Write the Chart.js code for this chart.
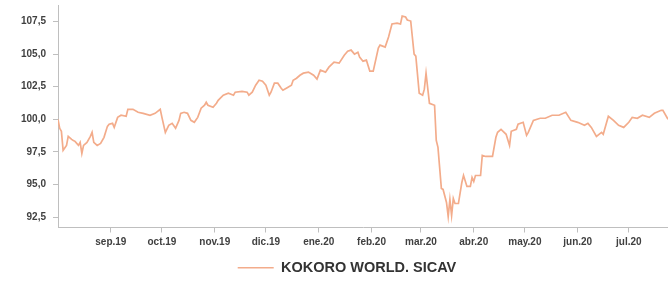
<!DOCTYPE html>
<html>
<head>
<meta charset="utf-8">
<script src="https://cdn.jsdelivr.net/npm/chart.js@4.4.1/dist/chart.umd.min.js"></script>
<style>
html, body { margin: 0; padding: 0; background: #fff; }
</style>
</head>
<body>
<canvas id="chart" width="668" height="282"></canvas>
<script>
// dias contados desde el 1 de agosto de 2019
const days = [0, 1, 2, 3, 5, 6, 8, 9, 10, 12, 13, 14, 15, 17, 19, 20, 21, 23, 25, 27,
    29, 30, 32, 33, 35, 37, 40, 41, 44, 47, 50, 54, 57, 60, 61, 63, 65, 67, 69, 71,
    72, 74, 76, 78, 80, 82, 84, 86, 87, 88, 91, 93, 94, 97, 100, 103, 104, 108, 111, 112,
    114, 116, 118, 120, 122, 124, 125, 127, 129, 131, 132, 135, 137, 138, 140, 142, 144, 147, 150, 152,
    154, 157, 159, 162, 165, 168, 170, 172, 174, 176, 177, 179, 181, 183, 185, 188, 189, 192, 194, 196,
    199, 201, 202, 204, 205, 207, 209, 210, 212, 214, 215, 216, 218, 221, 222, 223, 225, 226, 228, 229,
    230, 231, 232, 233, 235, 237, 238, 240, 242, 243, 244, 245, 248, 249, 251, 255, 257, 258, 260, 263,
    265, 266, 269, 270, 273, 275, 276, 279, 283, 286, 290, 294, 298, 301, 305, 309, 311, 313, 316, 319,
    320, 323, 326, 329, 332, 335, 337, 340, 343, 347, 350, 354, 355, 358];

const values = [100.00, 99.31, 99.08, 97.62, 98.00, 98.69, 98.46, 98.38, 98.31, 98.00, 98.23, 97.38, 98.00, 98.23, 98.69, 99.00, 98.23, 98.00, 98.15, 98.62,
    99.46, 99.62, 99.69, 99.38, 100.15, 100.31, 100.23, 100.77, 100.77, 100.54, 100.46, 100.31, 100.46, 100.77, 100.15, 99.00, 99.54, 99.69, 99.31, 99.92,
    100.46, 100.54, 100.46, 99.92, 99.77, 100.15, 100.85, 101.08, 101.31, 101.08, 100.92, 101.23, 101.46, 101.85, 102.00, 101.85, 102.08, 102.15, 102.08, 101.85,
    102.08, 102.62, 103.00, 102.92, 102.62, 101.85, 102.08, 102.77, 102.77, 102.38, 102.23, 102.46, 102.62, 103.00, 103.15, 103.38, 103.54, 103.62, 103.38, 103.08,
    103.77, 103.62, 104.00, 104.38, 104.31, 104.92, 105.23, 105.31, 105.00, 105.15, 104.77, 104.46, 104.54, 103.69, 103.69, 105.46, 105.69, 105.54, 106.31, 107.31,
    107.38, 107.31, 107.92, 107.85, 107.62, 107.54, 105.00, 104.85, 102.00, 101.85, 102.31, 103.54, 101.23, 101.08, 98.38, 97.85, 94.69, 94.62, 93.62, 92.54,
    93.85, 92.62, 93.92, 93.54, 93.54, 95.15, 95.69, 94.85, 94.85, 95.54, 95.23, 95.69, 95.69, 97.23, 97.15, 97.15, 98.62, 99.00, 99.23, 98.85,
    98.00, 99.08, 99.23, 99.62, 99.77, 98.77, 99.00, 99.92, 100.08, 100.08, 100.31, 100.31, 100.54, 99.92, 99.77, 99.54, 99.69, 99.38, 98.69, 99.00,
    98.85, 100.23, 99.92, 99.54, 99.38, 99.77, 100.15, 100.08, 100.31, 100.15, 100.46, 100.69, 100.69, 100.00];

const monthStarts = [31, 61, 92, 122, 153, 184, 213, 244, 274, 305, 335];
const monthLabels = ['sep.19', 'oct.19', 'nov.19', 'dic.19', 'ene.20', 'feb.20', 'mar.20', 'abr.20', 'may.20', 'jun.20', 'jul.20'];
const yTicks = [92.5, 95, 97.5, 100, 102.5, 105, 107.5];
const seriesName = 'KOKORO WORLD. SICAV';

const lineColor = '#F3AC8B';
const axisColor = '#BFBFBF';
const labelColor = '#404040';

const points = days.map((d, i) => ({ x: d, y: values[i] }));

// mueve la leyenda un poco a la derecha, como en el original
const legendShift = {
    id: 'legendShift',
    afterLayout(chart) {
        chart.legend.left += 13;
        chart.legend.right += 13;
    }
};

const ctx = document.getElementById('chart').getContext('2d');
new Chart(ctx, {
    type: 'line',
    data: {
        datasets: [{
            label: seriesName,
            data: points,
            borderColor: lineColor,
            backgroundColor: lineColor,
            borderWidth: 1.7,
            pointRadius: 0,
            tension: 0
        }]
    },
    options: {
        responsive: false,
        animation: false,
        layout: { padding: { top: 5, right: 0, bottom: -3, left: 0 } },
        plugins: {
            tooltip: { enabled: false },
            legend: {
                position: 'bottom',
                labels: {
                    usePointStyle: true,
                    pointStyle: 'line',
                    pointStyleWidth: 36,
                    padding: 6,
                    color: '#333',
                    font: { family: "'Liberation Sans', Arial, sans-serif", size: 14.5, weight: 'bold' }
                }
            }
        },
        scales: {
            x: {
                type: 'linear',
                min: 0,
                max: 358,
                afterBuildTicks: scale => {
                    scale.ticks = monthStarts.map(v => ({ value: v }));
                },
                afterFit: scale => { scale.height = 27; },
                grid: {
                    drawOnChartArea: false,
                    drawTicks: true,
                    tickLength: 5,
                    color: axisColor
                },
                border: { color: axisColor },
                ticks: {
                    autoSkip: false,
                    maxRotation: 0,
                    padding: 4,
                    color: labelColor,
                    font: { family: "'Liberation Sans', Arial, sans-serif", size: 10, weight: 'bold' },
                    callback: value => monthLabels[monthStarts.indexOf(value)]
                }
            },
            y: {
                min: 91.7,
                max: 108.77,
                afterBuildTicks: scale => {
                    scale.ticks = yTicks.map(v => ({ value: v }));
                },
                afterFit: scale => {
                    scale.width = 58;
                    scale.paddingTop = 0;
                    scale.paddingBottom = 0;
                },
                grid: {
                    drawOnChartArea: false,
                    drawTicks: true,
                    tickLength: 5,
                    color: axisColor
                },
                border: { color: axisColor },
                ticks: {
                    padding: 7,
                    color: labelColor,
                    font: { family: "'Liberation Sans', Arial, sans-serif", size: 10, weight: 'bold' },
                    callback: value => value.toFixed(1).replace('.', ',')
                }
            }
        }
    },
    plugins: [legendShift]
});
</script>
</body>
</html>
